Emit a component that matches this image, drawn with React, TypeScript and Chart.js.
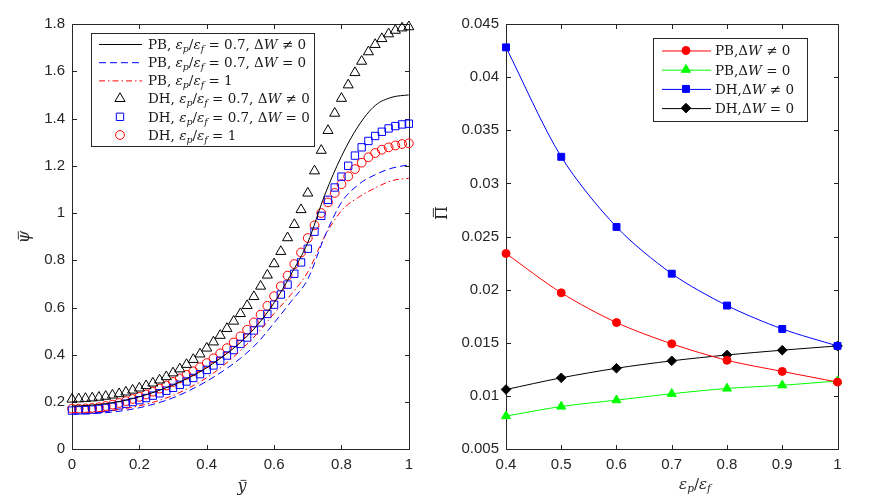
import { useEffect, useRef } from "react";
import {
  Chart,
  registerables,
  type ChartConfiguration,
  type Plugin,
  type PointStyle,
} from "chart.js";
import { drawPoint } from "chart.js/helpers";

Chart.register(...registerables);

// ---- left panel: potential profile against y-bar ----
const yBarDH = [
  0, 0.02, 0.04, 0.06, 0.08, 0.1, 0.12, 0.14, 0.16, 0.18, 0.2, 0.22, 0.24,
  0.26, 0.28, 0.3, 0.32, 0.34, 0.36, 0.38, 0.4, 0.42, 0.44, 0.46, 0.48, 0.5,
  0.52, 0.54, 0.56, 0.58, 0.6, 0.62, 0.64, 0.66, 0.68, 0.7, 0.72, 0.74, 0.76,
  0.78, 0.8, 0.82, 0.84, 0.86, 0.88, 0.9, 0.92, 0.94, 0.96, 0.98, 1,
];
const dhNonzero07 = [
  0.212, 0.213, 0.215, 0.217, 0.22, 0.224, 0.229, 0.235, 0.242, 0.25, 0.259,
  0.269, 0.28, 0.293, 0.307, 0.323, 0.34, 0.359, 0.38, 0.403, 0.428, 0.454,
  0.482, 0.511, 0.542, 0.574, 0.608, 0.646, 0.69, 0.737, 0.785, 0.837, 0.895,
  0.951, 1.014, 1.084, 1.178, 1.265, 1.349, 1.422, 1.485, 1.542, 1.594, 1.642,
  1.682, 1.713, 1.738, 1.758, 1.773, 1.783, 1.788,
];
const dhZero07 = [
  0.164, 0.165, 0.166, 0.168, 0.171, 0.175, 0.18, 0.186, 0.193, 0.2, 0.208,
  0.217, 0.227, 0.237, 0.248, 0.26, 0.273, 0.287, 0.302, 0.318, 0.336, 0.355,
  0.375, 0.397, 0.42, 0.446, 0.473, 0.503, 0.537, 0.573, 0.612, 0.655, 0.697,
  0.743, 0.791, 0.849, 0.921, 0.988, 1.056, 1.108, 1.154, 1.2, 1.243, 1.278,
  1.305, 1.326, 1.344, 1.358, 1.368, 1.375, 1.378,
];
const dhRatio1 = [
  0.172, 0.172, 0.173, 0.175, 0.178, 0.183, 0.189, 0.196, 0.204, 0.213, 0.222,
  0.232, 0.244, 0.257, 0.27, 0.285, 0.3, 0.315, 0.33, 0.347, 0.365, 0.385,
  0.406, 0.428, 0.452, 0.478, 0.506, 0.537, 0.57, 0.607, 0.648, 0.69, 0.735,
  0.784, 0.833, 0.894, 0.948, 1.0, 1.045, 1.085, 1.122, 1.155, 1.186, 1.213,
  1.236, 1.254, 1.268, 1.278, 1.286, 1.292, 1.295,
];

const yBarPB = [
  0, 0.05, 0.1, 0.15, 0.2, 0.25, 0.3, 0.35, 0.4, 0.45, 0.5, 0.55, 0.6, 0.65,
  0.7, 0.75, 0.8, 0.85, 0.9, 0.95, 1,
];
const pbNonzero07 = [
  0.183, 0.186, 0.193, 0.205, 0.222, 0.245, 0.272, 0.305, 0.345, 0.395, 0.452,
  0.525, 0.62, 0.74, 0.875, 1.075, 1.24, 1.368, 1.455, 1.49, 1.5,
];
const pbZero07 = [
  0.149, 0.15, 0.155, 0.163, 0.176, 0.194, 0.218, 0.25, 0.288, 0.333, 0.385,
  0.45, 0.535, 0.625, 0.72, 0.9, 1.045, 1.12, 1.162, 1.19, 1.204,
];
const pbRatio1 = [
  0.156, 0.157, 0.162, 0.171, 0.184, 0.203, 0.228, 0.262, 0.303, 0.355, 0.418,
  0.49, 0.575, 0.655, 0.75, 0.9, 1.01, 1.066, 1.106, 1.137, 1.147,
];

const leftXTicks = [0, 0.2, 0.4, 0.6, 0.8, 1];
const leftYTicks = [0, 0.2, 0.4, 0.6, 0.8, 1, 1.2, 1.4, 1.6, 1.8];

// ---- right panel: Pi-bar against permittivity ratio ----
const ratio = [0.4, 0.5, 0.6, 0.7, 0.8, 0.9, 1];
const piPBNonzero = [0.0234, 0.0197, 0.0169, 0.0149, 0.01335, 0.0123, 0.0113];
const piPBZero = [0.0081, 0.009, 0.0096, 0.0102, 0.0107, 0.011, 0.0114];
const piDHNonzero = [0.0428, 0.0325, 0.0259, 0.0215, 0.0185, 0.0163, 0.0147];
const piDHZero = [0.0106, 0.0117, 0.0126, 0.0133, 0.01385, 0.0143, 0.0147];

const rightXTicks = [0.4, 0.5, 0.6, 0.7, 0.8, 0.9, 1];
const rightYTicks = [
  0.005, 0.01, 0.015, 0.02, 0.025, 0.03, 0.035, 0.04, 0.045,
];

const AXIS = "#262626";
const TICK_FONT = '"Liberation Sans", Arial, Helvetica, sans-serif';
const MATH_FONT = '"DejaVu Serif", "Liberation Serif", serif';
const TICK_LEN = 4.5;

function points(xs: number[], ys: number[]) {
  return xs.map((x, i) => ({ x, y: ys[i] }));
}

function fmt(value: number | string) {
  return String(Number(Number(value).toFixed(4)));
}

// tiny math markup: {x} italic, _x italic subscript, [x] italic with bar, <x> roman with bar
type Seg = { text: string; italic: boolean; sub: boolean; bar: boolean };

function parseMath(src: string): Seg[] {
  const segs: Seg[] = [];
  let buf = "";
  const flush = () => {
    if (buf) segs.push({ text: buf, italic: false, sub: false, bar: false });
    buf = "";
  };
  const close: Record<string, string> = { "{": "}", "[": "]", "<": ">" };
  let i = 0;
  while (i < src.length) {
    const c = src[i];
    if (close[c]) {
      flush();
      const j = src.indexOf(close[c], i);
      segs.push({
        text: src.slice(i + 1, j),
        italic: c !== "<",
        sub: false,
        bar: c !== "{",
      });
      i = j + 1;
    } else if (c === "_") {
      flush();
      segs.push({ text: src[i + 1], italic: true, sub: true, bar: false });
      i += 2;
    } else {
      buf += c;
      i++;
    }
  }
  flush();
  return segs;
}

function drawMath(
  ctx: CanvasRenderingContext2D,
  src: string,
  x: number,
  y: number,
  size: number,
  align: "left" | "center",
) {
  const segs = parseMath(src);
  const fontOf = (s: Seg) =>
    `${s.italic ? "italic " : ""}${s.sub ? size * 0.7 : size}px ${MATH_FONT}`;
  let width = 0;
  for (const s of segs) {
    ctx.font = fontOf(s);
    width += ctx.measureText(s.text).width;
  }
  let cx = align === "center" ? x - width / 2 : x;
  ctx.textAlign = "left";
  ctx.textBaseline = "alphabetic";
  for (const s of segs) {
    ctx.font = fontOf(s);
    const m = ctx.measureText(s.text);
    ctx.fillText(s.text, cx, y + (s.sub ? size * 0.22 : 0));
    if (s.bar) {
      const top = y - m.actualBoundingBoxAscent - size * 0.12;
      const skew = s.italic ? size * 0.08 : 0;
      ctx.save();
      ctx.strokeStyle = ctx.fillStyle as string;
      ctx.lineWidth = 0.9;
      ctx.beginPath();
      ctx.moveTo(cx + m.width * 0.2 + skew, top);
      ctx.lineTo(cx + m.width * 0.85 + skew, top);
      ctx.stroke();
      ctx.restore();
    }
    cx += m.width;
  }
}

type Marker = { style: PointStyle; radius: number; filled: boolean };
type LegendRow = {
  label: string;
  color: string;
  line: boolean;
  dash?: number[];
  marker?: Marker;
};
type Overlay = {
  box: { x: number; y: number; w: number; h: number };
  rowY: number[];
  lineX: [number, number];
  markerX: number;
  textX: number;
  fontSize: number;
  rows: LegendRow[];
  titles: { text: string; x: number; y: number; size: number; rotate?: boolean }[];
};

function paintMarker(
  ctx: CanvasRenderingContext2D,
  m: Marker,
  color: string,
  x: number,
  y: number,
) {
  ctx.save();
  ctx.strokeStyle = color;
  ctx.fillStyle = m.filled ? color : "rgba(0,0,0,0)";
  ctx.lineWidth = 1;
  drawPoint(ctx, { pointStyle: m.style, radius: m.radius, rotation: 0, borderWidth: 1 }, x, y);
  ctx.restore();
}

function framePlugin(xTicks: number[], yTicks: number[]): Plugin {
  return {
    id: "frame",
    beforeDatasetsDraw(chart) {
      const { ctx, chartArea: a, scales } = chart;
      const l = Math.round(a.left) + 0.5;
      const r = Math.round(a.right) + 0.5;
      const t = Math.round(a.top) + 0.5;
      const b = Math.round(a.bottom) + 0.5;
      ctx.save();
      ctx.strokeStyle = AXIS;
      ctx.lineWidth = 1;
      ctx.beginPath();
      ctx.rect(l, t, r - l, b - t);
      for (const v of xTicks) {
        const px = Math.round(scales.x.getPixelForValue(v)) + 0.5;
        ctx.moveTo(px, b);
        ctx.lineTo(px, b - TICK_LEN);
        ctx.moveTo(px, t);
        ctx.lineTo(px, t + TICK_LEN);
      }
      for (const v of yTicks) {
        const py = Math.round(scales.y.getPixelForValue(v)) + 0.5;
        ctx.moveTo(l, py);
        ctx.lineTo(l + TICK_LEN, py);
        ctx.moveTo(r, py);
        ctx.lineTo(r - TICK_LEN, py);
      }
      ctx.stroke();
      ctx.restore();
    },
  };
}

function overlayPlugin(o: Overlay): Plugin {
  return {
    id: "overlay",
    afterDraw(chart) {
      const ctx = chart.ctx;
      ctx.save();
      ctx.fillStyle = "#ffffff";
      ctx.fillRect(o.box.x, o.box.y, o.box.w, o.box.h);
      ctx.strokeStyle = AXIS;
      ctx.lineWidth = 1;
      ctx.strokeRect(o.box.x + 0.5, o.box.y + 0.5, o.box.w, o.box.h);
      o.rows.forEach((row, i) => {
        const y = o.rowY[i];
        if (row.line) {
          ctx.save();
          ctx.strokeStyle = row.color;
          ctx.lineWidth = 1;
          ctx.setLineDash(row.dash ?? []);
          ctx.beginPath();
          ctx.moveTo(o.lineX[0], y + 0.5);
          ctx.lineTo(o.lineX[1], y + 0.5);
          ctx.stroke();
          ctx.restore();
        }
        if (row.marker) paintMarker(ctx, row.marker, row.color, o.markerX, y);
        ctx.fillStyle = "#1a1a1a";
        drawMath(ctx, row.label, o.textX, y + o.fontSize * 0.36, o.fontSize, "left");
      });
      ctx.fillStyle = "#262626";
      for (const t of o.titles) {
        ctx.save();
        ctx.translate(t.x, t.y);
        if (t.rotate) ctx.rotate(-Math.PI / 2);
        drawMath(ctx, t.text, 0, t.size * 0.33, t.size, "center");
        ctx.restore();
      }
      ctx.restore();
    },
  };
}

function axisOptions(
  min: number,
  max: number,
  ticks: number[],
  fit: { width?: number; height?: number },
) {
  return {
    type: "linear" as const,
    min,
    max,
    border: { display: false },
    grid: { display: false, drawTicks: false },
    afterBuildTicks(scale: any) {
      scale.ticks = ticks.map((value) => ({ value }));
    },
    afterFit(scale: any) {
      if (fit.width !== undefined) scale.width = fit.width;
      if (fit.height !== undefined) scale.height = fit.height;
    },
    ticks: {
      color: AXIS,
      padding: 7,
      autoSkip: false,
      maxRotation: 0,
      font: { family: TICK_FONT, size: 15 },
      callback: (v: number | string) => fmt(v),
    },
  };
}

const TRI: Marker = { style: "triangle", radius: 5.8, filled: false };
const SQR: Marker = { style: "rect", radius: 5.2, filled: false };
const CIR: Marker = { style: "circle", radius: 4.4, filled: false };

const leftOverlay: Overlay = {
  box: { x: 91, y: 33, w: 223, h: 113 },
  rowY: [44, 62.2, 80.4, 98.6, 116.8, 135],
  lineX: [99, 142],
  markerX: 120,
  textX: 148,
  fontSize: 13.5,
  rows: [
    { label: "PB, {ε}_p/{ε}_f = 0.7, Δ{W} ≠ 0", color: "#000000", line: true },
    { label: "PB, {ε}_p/{ε}_f = 0.7, Δ{W} = 0", color: "#0000ff", line: true, dash: [7, 4] },
    { label: "PB, {ε}_p/{ε}_f = 1", color: "#ff0000", line: true, dash: [6, 3, 1.5, 3] },
    { label: "DH, {ε}_p/{ε}_f = 0.7, Δ{W} ≠ 0", color: "#000000", line: false, marker: TRI },
    { label: "DH, {ε}_p/{ε}_f = 0.7, Δ{W} = 0", color: "#0000ff", line: false, marker: SQR },
    { label: "DH, {ε}_p/{ε}_f = 1", color: "#ff0000", line: false, marker: CIR },
  ],
  titles: [
    { text: "[ψ]", x: 24, y: 237, size: 16 },
    { text: "[y]", x: 242, y: 486, size: 16 },
  ],
};
leftOverlay.titles[0].rotate = true;

// right canvas starts at page x = 420
const rightOverlay: Overlay = {
  box: { x: 233, y: 38, w: 154, h: 83 },
  rowY: [50.5, 69.7, 88.9, 108.1],
  lineX: [242, 291],
  markerX: 266,
  textX: 295,
  fontSize: 13.5,
  rows: [
    { label: "PB,Δ{W} ≠ 0", color: "#ff0000", line: true, marker: { style: "circle", radius: 4, filled: true } },
    { label: "PB,Δ{W} = 0", color: "#00ff00", line: true, marker: { style: "triangle", radius: 5.2, filled: true } },
    { label: "DH,Δ{W} ≠ 0", color: "#0000ff", line: true, marker: { style: "rect", radius: 4.9, filled: true } },
    { label: "DH,Δ{W} = 0", color: "#000000", line: true, marker: { style: "rectRot", radius: 4.8, filled: true } },
  ],
  titles: [
    { text: "<Π>", x: 22, y: 213, size: 16, rotate: true },
    { text: "{ε}_p/{ε}_f", x: 275, y: 484, size: 15 },
  ],
};

function pbLine(label: string, ys: number[], color: string, dash: number[]) {
  return {
    label,
    data: points(yBarPB, ys),
    borderColor: color,
    borderWidth: 1,
    borderDash: dash,
    pointRadius: 0,
    cubicInterpolationMode: "monotone" as const,
    fill: false,
  };
}

function dhMarkers(label: string, ys: number[], color: string, m: Marker) {
  return {
    label,
    data: points(yBarDH, ys),
    showLine: false,
    pointStyle: m.style,
    pointRadius: m.radius,
    pointBorderWidth: 1,
    pointBorderColor: color,
    pointBackgroundColor: "rgba(0,0,0,0)",
    borderColor: color,
    clip: false as const,
  };
}

function piSeries(label: string, ys: number[], color: string, style: PointStyle, radius: number) {
  return {
    label,
    data: points(ratio, ys),
    borderColor: color,
    borderWidth: 1,
    backgroundColor: color,
    pointStyle: style,
    pointRadius: radius,
    pointBorderWidth: 1,
    pointBorderColor: color,
    pointBackgroundColor: color,
    tension: 0.3,
    clip: false as const,
  };
}

const baseOptions = {
  responsive: false,
  animation: false as const,
  events: [],
  plugins: { legend: { display: false }, tooltip: { enabled: false } },
};

function leftConfig(): ChartConfiguration {
  return {
    type: "line",
    data: {
      datasets: [
        pbLine("PB 0.7 nonzero", pbNonzero07, "#000000", []),
        pbLine("PB 0.7 zero", pbZero07, "#0000ff", [7, 4]),
        pbLine("PB 1", pbRatio1, "#ff0000", [6, 3, 1.5, 3]),
        dhMarkers("DH 0.7 nonzero", dhNonzero07, "#000000", TRI),
        dhMarkers("DH 0.7 zero", dhZero07, "#0000ff", SQR),
        dhMarkers("DH 1", dhRatio1, "#ff0000", CIR),
      ] as any,
    },
    options: {
      ...baseOptions,
      layout: { padding: { top: 24, right: 10.7, left: 0, bottom: 0 } },
      scales: {
        x: axisOptions(0, 1, leftXTicks, { height: 49.7 }),
        y: axisOptions(0, 1.8, leftYTicks, { width: 72 }),
      },
    } as any,
    plugins: [framePlugin(leftXTicks, leftYTicks), overlayPlugin(leftOverlay)],
  };
}

function rightConfig(): ChartConfiguration {
  return {
    type: "line",
    data: {
      datasets: [
        piSeries("PB nonzero", piPBNonzero, "#ff0000", "circle", 4),
        piSeries("PB zero", piPBZero, "#00ff00", "triangle", 5.2),
        piSeries("DH nonzero", piDHNonzero, "#0000ff", "rect", 4.9),
        piSeries("DH zero", piDHZero, "#000000", "rectRot", 4.8),
      ] as any,
    },
    options: {
      ...baseOptions,
      layout: { padding: { top: 24, right: 47.5, left: 0, bottom: 0 } },
      scales: {
        x: axisOptions(0.4, 1, rightXTicks, { height: 50 }),
        y: axisOptions(0.005, 0.045, rightYTicks, { width: 86 }),
      },
    } as any,
    plugins: [framePlugin(rightXTicks, rightYTicks), overlayPlugin(rightOverlay)],
  };
}

function ChartCanvas({
  width,
  height,
  left,
  make,
}: {
  width: number;
  height: number;
  left: number;
  make: () => ChartConfiguration;
}) {
  const ref = useRef<HTMLCanvasElement>(null);

  useEffect(() => {
    if (!ref.current) return;
    const chart = new Chart(ref.current, make());
    return () => {
      chart.destroy();
    };
  }, [make]);

  return (
    <canvas
      ref={ref}
      width={width}
      height={height}
      style={{ position: "absolute", left, top: 0, width, height }}
    />
  );
}

export default function App() {
  return (
    <div
      style={{
        position: "fixed",
        left: 0,
        top: 0,
        width: 885,
        height: 499,
        background: "#ffffff",
      }}
    >
      <ChartCanvas width={420} height={499} left={0} make={leftConfig} />
      <ChartCanvas width={465} height={499} left={420} make={rightConfig} />
    </div>
  );
}
